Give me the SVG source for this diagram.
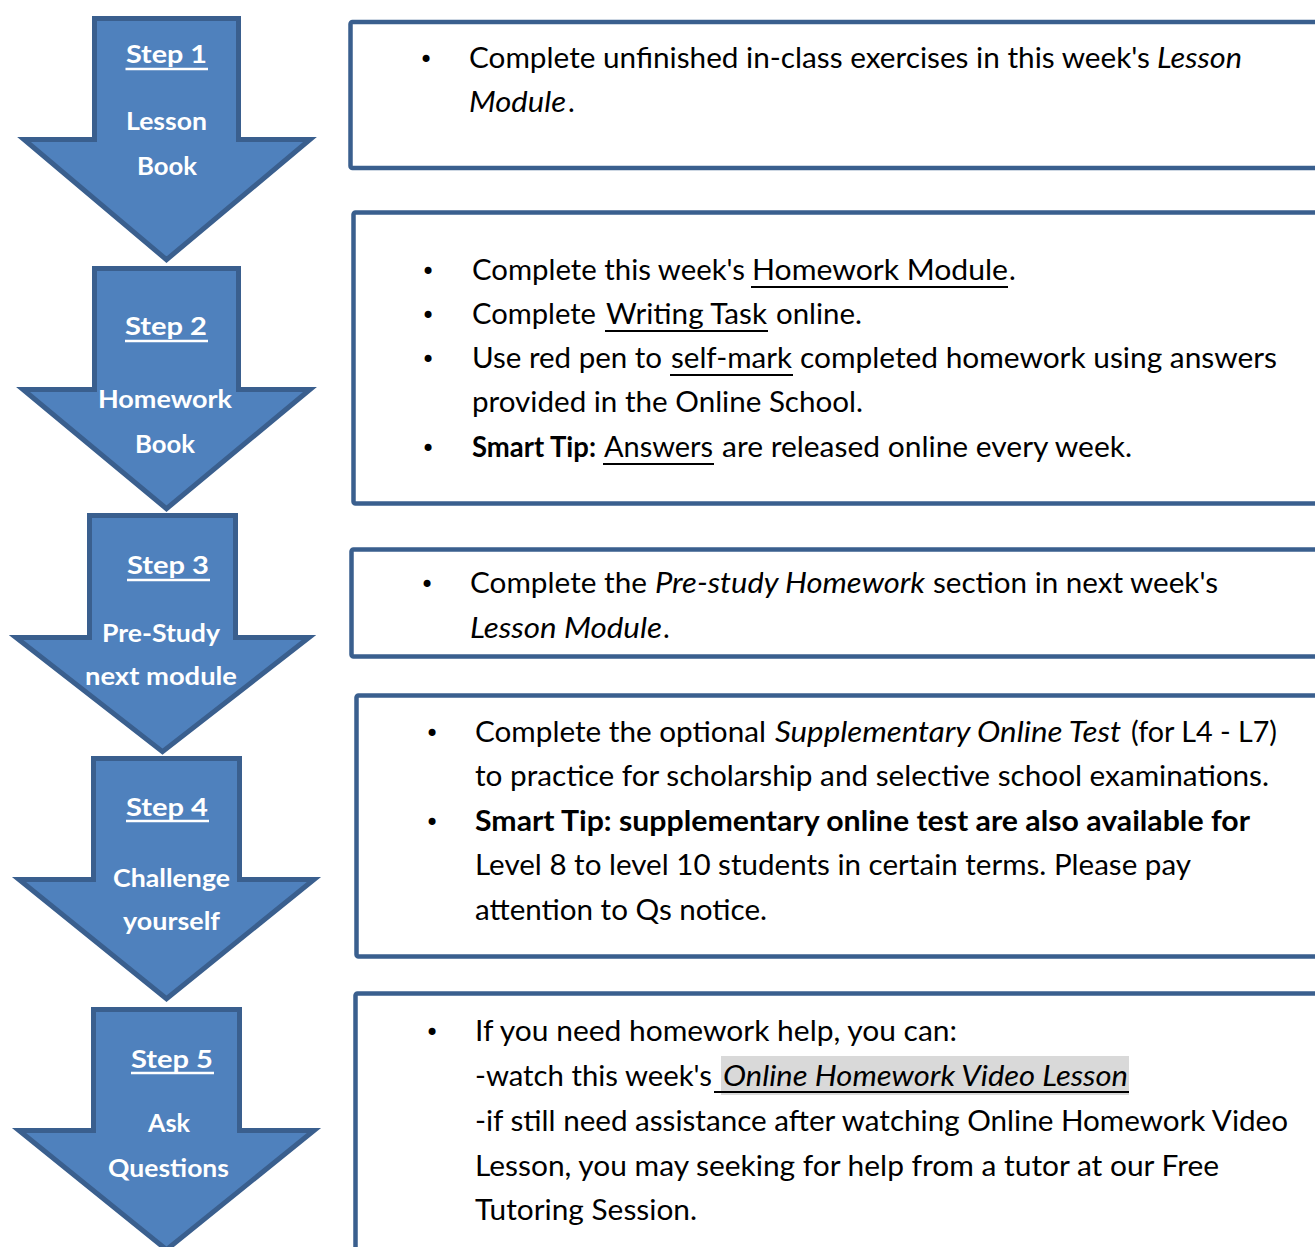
<svg xmlns="http://www.w3.org/2000/svg" width="1315" height="1247" viewBox="0 0 1315 1247">
<style>
.arrow{fill:#4F81BD;stroke:#3A5F8E;stroke-width:5;stroke-linejoin:miter}
.box{fill:#fff;stroke:#3A5F8E;stroke-width:4.5}
.t{font-family:Lato,"Open Sans","Liberation Sans",sans-serif;font-size:28.5px;fill:#000}
.i{font-style:italic}
.b{font-weight:bold}
.w{font-family:Lato,"Open Sans","Liberation Sans",sans-serif;font-weight:bold;font-size:25.5px;fill:#fff;text-anchor:middle}
.bul{font-family:"DejaVu Sans",sans-serif;font-size:24px;fill:#000;text-anchor:middle}
.ul{stroke:#000;stroke-width:2}
.wul{stroke:#fff;stroke-width:2.5}
</style>
<rect width="1315" height="1247" fill="#fff"/>

<g id="step1">
<path class="arrow" d="M94.5,18.5 H238.5 V139.5 H310 L166.5,259.7 L24,139.5 H94.5 Z"/>
<text class="w" x="166.5" y="63" textLength="81" lengthAdjust="spacingAndGlyphs">Step 1</text>
<line class="wul" x1="125.5" y1="69" x2="208" y2="69"/>
<text class="w" x="166.5" y="130" textLength="81" lengthAdjust="spacingAndGlyphs">Lesson</text>
<text class="w" x="167" y="175" textLength="60" lengthAdjust="spacingAndGlyphs">Book</text>
</g>

<g id="step2">
<path class="arrow" d="M94.5,268.5 H238.5 V389.5 H310 L166.5,508.7 L23,389.5 H94.5 Z"/>
<text class="w" x="166" y="335" textLength="82" lengthAdjust="spacingAndGlyphs">Step 2</text>
<line class="wul" x1="125" y1="341" x2="208" y2="341"/>
<text class="w" x="165" y="408" textLength="134" lengthAdjust="spacingAndGlyphs">Homework</text>
<text class="w" x="165" y="453" textLength="60" lengthAdjust="spacingAndGlyphs">Book</text>
</g>

<g id="step3">
<path class="arrow" d="M89.5,515.5 H235.5 V637.5 H309 L162.5,751.7 L16,637.5 H89.5 Z"/>
<text class="w" x="168" y="574" textLength="82" lengthAdjust="spacingAndGlyphs">Step 3</text>
<line class="wul" x1="127" y1="580" x2="210" y2="580"/>
<text class="w" x="161" y="642" textLength="118" lengthAdjust="spacingAndGlyphs">Pre-Study</text>
<text class="w" x="161" y="685" textLength="152" lengthAdjust="spacingAndGlyphs">next module</text>
</g>

<g id="step4">
<path class="arrow" d="M93.5,758.5 H239.5 V879.5 H314 L166.5,998.7 L19,879.5 H93.5 Z"/>
<text class="w" x="167" y="816" textLength="82" lengthAdjust="spacingAndGlyphs">Step 4</text>
<line class="wul" x1="126" y1="821" x2="209" y2="821"/>
<text class="w" x="171.5" y="887" textLength="117" lengthAdjust="spacingAndGlyphs">Challenge</text>
<text class="w" x="171.5" y="930" textLength="97" lengthAdjust="spacingAndGlyphs">yourself</text>
</g>

<g id="step5">
<path class="arrow" d="M93.5,1009.5 H239.5 V1130.5 H314 L166.5,1249.7 L19,1130.5 H93.5 Z"/>
<text class="w" x="172" y="1068" textLength="82" lengthAdjust="spacingAndGlyphs">Step 5</text>
<line class="wul" x1="131" y1="1073" x2="214" y2="1073"/>
<text class="w" x="169" y="1132" textLength="42" lengthAdjust="spacingAndGlyphs">Ask</text>
<text class="w" x="168.5" y="1177" textLength="121" lengthAdjust="spacingAndGlyphs">Questions</text>
</g>

<g id="box1">
<rect class="box" x="350.5" y="22" width="1000" height="146" rx="2"/>
<text class="bul" x="426" y="68">•</text>
<text class="t" x="469" y="68" textLength="681" lengthAdjust="spacingAndGlyphs">Complete unfinished in-class exercises in this week's</text>
<text class="t i" x="1157" y="68" textLength="85" lengthAdjust="spacingAndGlyphs">Lesson</text>
<text class="t i" x="469" y="112" textLength="97" lengthAdjust="spacingAndGlyphs">Module</text>
<text class="t" x="568" y="112">.</text>
</g>

<g id="box2">
<rect class="box" x="353.5" y="212.5" width="1000" height="291" rx="2"/>
<text class="bul" x="428" y="280">•</text>
<text class="t" x="472" y="280" textLength="273" lengthAdjust="spacingAndGlyphs">Complete this week's</text>
<text class="t" x="752" y="280" textLength="256" lengthAdjust="spacingAndGlyphs">Homework Module</text>
<line class="ul" x1="751" y1="287" x2="1008" y2="287"/>
<text class="t" x="1009" y="280">.</text>
<text class="bul" x="428" y="324">•</text>
<text class="t" x="472" y="324" textLength="124" lengthAdjust="spacingAndGlyphs">Complete</text>
<text class="t" x="606" y="324" textLength="161" lengthAdjust="spacingAndGlyphs">Writing Task</text>
<line class="ul" x1="605" y1="331" x2="768" y2="331"/>
<text class="t" x="776" y="324" textLength="86" lengthAdjust="spacingAndGlyphs">online.</text>
<text class="bul" x="428" y="368">•</text>
<text class="t" x="472" y="368" textLength="190" lengthAdjust="spacingAndGlyphs">Use red pen to</text>
<text class="t" x="671" y="368" textLength="121" lengthAdjust="spacingAndGlyphs">self-mark</text>
<line class="ul" x1="670" y1="375" x2="793" y2="375"/>
<text class="t" x="800" y="368" textLength="477" lengthAdjust="spacingAndGlyphs">completed homework using answers</text>
<text class="t" x="472" y="412" textLength="391" lengthAdjust="spacingAndGlyphs">provided in the Online School.</text>
<text class="bul" x="428" y="457">•</text>
<text class="t b" x="472" y="457" textLength="124" lengthAdjust="spacingAndGlyphs">Smart Tip:</text>
<text class="t" x="604" y="457" textLength="109" lengthAdjust="spacingAndGlyphs">Answers</text>
<line class="ul" x1="603" y1="464" x2="714" y2="464"/>
<text class="t" x="722" y="457" textLength="410" lengthAdjust="spacingAndGlyphs">are released online every week.</text>
</g>

<g id="box3">
<rect class="box" x="351.5" y="549.5" width="1000" height="107" rx="2"/>
<text class="bul" x="427" y="593">•</text>
<text class="t" x="470" y="593" textLength="177" lengthAdjust="spacingAndGlyphs">Complete the</text>
<text class="t i" x="655" y="593" textLength="270" lengthAdjust="spacingAndGlyphs">Pre-study Homework</text>
<text class="t" x="933" y="593" textLength="285" lengthAdjust="spacingAndGlyphs">section in next week's</text>
<text class="t i" x="470" y="638" textLength="192" lengthAdjust="spacingAndGlyphs">Lesson Module</text>
<text class="t" x="663" y="638">.</text>
</g>

<g id="box4">
<rect class="box" x="356.5" y="695.5" width="1000" height="261" rx="2"/>
<text class="bul" x="432" y="742">•</text>
<text class="t" x="475" y="742" textLength="291" lengthAdjust="spacingAndGlyphs">Complete the optional</text>
<text class="t i" x="775" y="742" textLength="346" lengthAdjust="spacingAndGlyphs">Supplementary Online Test</text>
<text class="t" x="1131" y="742" textLength="146" lengthAdjust="spacingAndGlyphs">(for L4 - L7)</text>
<text class="t" x="475" y="786" textLength="794" lengthAdjust="spacingAndGlyphs">to practice for scholarship and selective school examinations.</text>
<text class="bul" x="432" y="831">•</text>
<text class="t b" x="475" y="831" textLength="775" lengthAdjust="spacingAndGlyphs">Smart Tip: supplementary online test are also available for</text>
<text class="t" x="475" y="875" textLength="716" lengthAdjust="spacingAndGlyphs">Level 8 to level 10 students in certain terms. Please pay</text>
<text class="t" x="475" y="920" textLength="292" lengthAdjust="spacingAndGlyphs">attention to Qs notice.</text>
</g>

<g id="box5">
<rect class="box" x="355.5" y="993.5" width="1000" height="300" rx="2"/>
<text class="bul" x="432" y="1041">•</text>
<text class="t" x="475" y="1041" textLength="482" lengthAdjust="spacingAndGlyphs">If you need homework help, you can:</text>
<text class="t" x="475" y="1086" textLength="237" lengthAdjust="spacingAndGlyphs">-watch this week's</text>
<rect x="721" y="1056" width="408" height="39" fill="#D9D9D9"/>
<text class="t i" x="723" y="1086" textLength="405" lengthAdjust="spacingAndGlyphs">Online Homework Video Lesson</text>
<line class="ul" x1="714" y1="1092" x2="1129" y2="1092"/>
<text class="t" x="475" y="1131" textLength="813" lengthAdjust="spacingAndGlyphs">-if still need assistance after watching Online Homework Video</text>
<text class="t" x="475" y="1176" textLength="744" lengthAdjust="spacingAndGlyphs">Lesson, you may seeking for help from a tutor at our Free</text>
<text class="t" x="475" y="1220" textLength="222" lengthAdjust="spacingAndGlyphs">Tutoring Session.</text>
</g>

<g id="connectors"></g>
</svg>
